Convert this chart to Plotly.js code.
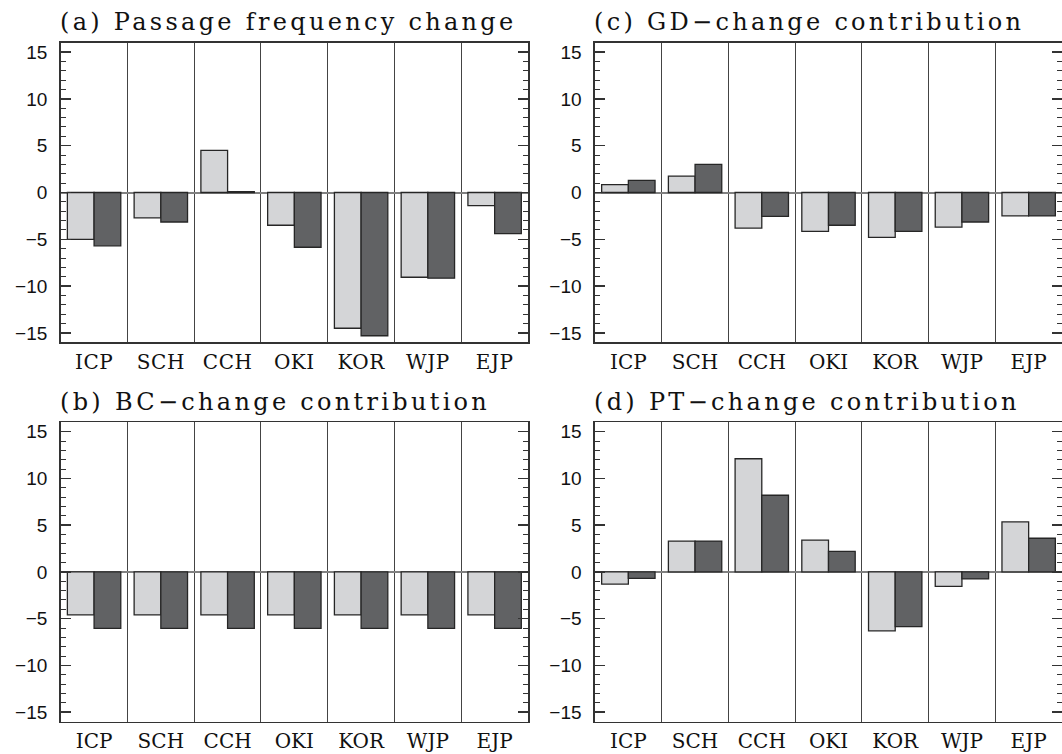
<!DOCTYPE html>
<html>
<head>
<meta charset="utf-8">
<script src="https://cdn.plot.ly/plotly-3.0.1.min.js"></script>
<style>
  html, body { margin: 0; padding: 0; background: #fff; }
  #chart { width: 1062px; height: 754px; }
  .annotation-text { letter-spacing: 3.3px; }
  .xtick text { letter-spacing: 0.5px; }
</style>
</head>
<body>
<div id="chart"></div>
<script>
// Categories (regions)
const categories = ["ICP", "SCH", "CCH", "OKI", "KOR", "WJP", "EJP"];

// (a) Passage frequency change
const passageLight = [-5.0, -2.7, 4.5, -3.5, -14.5, -9.05, -1.4];
const passageDark  = [-5.7, -3.15, 0.1, -5.85, -15.3, -9.15, -4.4];

// (b) BC-change contribution
const bcLight = [-4.6, -4.6, -4.6, -4.6, -4.6, -4.6, -4.6];
const bcDark  = [-6.05, -6.05, -6.05, -6.05, -6.05, -6.05, -6.05];

// (c) GD-change contribution
const gdLight = [0.85, 1.75, -3.8, -4.15, -4.8, -3.7, -2.5];
const gdDark  = [1.3, 3.0, -2.55, -3.5, -4.15, -3.15, -2.5];

// (d) PT-change contribution
const ptLight = [-1.3, 3.3, 12.1, 3.4, -6.3, -1.55, 5.35];
const ptDark  = [-0.7, 3.3, 8.2, 2.2, -5.85, -0.75, 3.6];

const panelTitles = [
  "(a) Passage frequency change",
  "(b) BC\u2212change contribution",
  "(c) GD\u2212change contribution",
  "(d) PT\u2212change contribution"
];

const yTickVals = [-15, -10, -5, 0, 5, 10, 15];

const lightColor = "#d4d5d7";
const darkColor = "#616264";
const edgeColor = "#262626";

const panels = [
  {light: passageLight, dark: passageDark, xa: "x",  ya: "y"},
  {light: bcLight,      dark: bcDark,      xa: "x2", ya: "y2"},
  {light: gdLight,      dark: gdDark,      xa: "x3", ya: "y3"},
  {light: ptLight,      dark: ptDark,      xa: "x4", ya: "y4"}
];

const traces = [];
panels.forEach((p, i) => {
  traces.push({
    type: "bar", x: categories, y: p.light, xaxis: p.xa, yaxis: p.ya,
    name: "light", showlegend: false,
    marker: {color: lightColor, line: {color: edgeColor, width: 1.3}}
  });
  traces.push({
    type: "bar", x: categories, y: p.dark, xaxis: p.xa, yaxis: p.ya,
    name: "dark", showlegend: false,
    marker: {color: darkColor, line: {color: edgeColor, width: 1.3}}
  });
});

const W = 1062, H = 754;
const leftDom = [60.7 / W, 528 / W];
const rightDom = [595 / W, 1.0];
const topDom = [(H - 342.3) / H, (H - 42.7) / H];
const botDom = [(H - 721.5) / H, (H - 422.3) / H];

function xAxis(domain, anchor) {
  return {
    domain: domain, anchor: anchor, type: "category",
    range: [-0.5, 6.5],
    tickson: "boundaries",
    ticks: "", showgrid: true, gridcolor: "#444", gridwidth: 1,
    showline: true, mirror: true, linecolor: "#333", linewidth: 1.6,
    zeroline: false,
    tickfont: {family: "DejaVu Serif", size: 20, color: "#111"},
    ticklabelstandoff: 1,
    fixedrange: true
  };
}
function yAxis(domain, anchor) {
  return {
    domain: domain, anchor: anchor,
    range: [-16, 16],
    tickvals: yTickVals,
    ticks: "inside", ticklen: 10, tickwidth: 1.5, tickcolor: "#333",
    minor: {dtick: 1, tick0: 0, ticks: "inside", ticklen: 5, tickwidth: 1, tickcolor: "#333", showgrid: false},
    mirror: "allticks", showline: true, linecolor: "#333", linewidth: 1.6,
    showgrid: false,
    zeroline: true, zerolinecolor: "#808080", zerolinewidth: 2,
    tickfont: {family: "Liberation Sans", size: 19, color: "#111"},
    ticklabelstandoff: 8,
    fixedrange: true
  };
}

const titleFont = {family: "DejaVu Serif", size: 24, color: "#111"};
const annotations = [
  {text: panelTitles[0], x: 58 / W, y: (H - 21.5) / H},
  {text: panelTitles[1], x: 58 / W, y: (H - 401.5) / H},
  {text: panelTitles[2], x: 592 / W, y: (H - 21.5) / H},
  {text: panelTitles[3], x: 592 / W, y: (H - 401.5) / H}
].map(a => Object.assign(a, {
  xref: "paper", yref: "paper", xanchor: "left", yanchor: "middle",
  showarrow: false, font: titleFont
}));

const layout = {
  width: W, height: H,
  margin: {l: 0, r: 0, t: 0, b: 0},
  paper_bgcolor: "#fff", plot_bgcolor: "#fff",
  barmode: "group", bargap: 0.2, bargroupgap: 0,
  xaxis: xAxis(leftDom, "y"),
  yaxis: yAxis(topDom, "x"),
  xaxis2: xAxis(leftDom, "y2"),
  yaxis2: yAxis(botDom, "x2"),
  xaxis3: xAxis(rightDom, "y3"),
  yaxis3: yAxis(topDom, "x3"),
  xaxis4: xAxis(rightDom, "y4"),
  yaxis4: yAxis(botDom, "x4"),
  annotations: annotations,
  showlegend: false
};

Plotly.newPlot("chart", traces, layout, {displayModeBar: false, staticPlot: true});
</script>
</body>
</html>
